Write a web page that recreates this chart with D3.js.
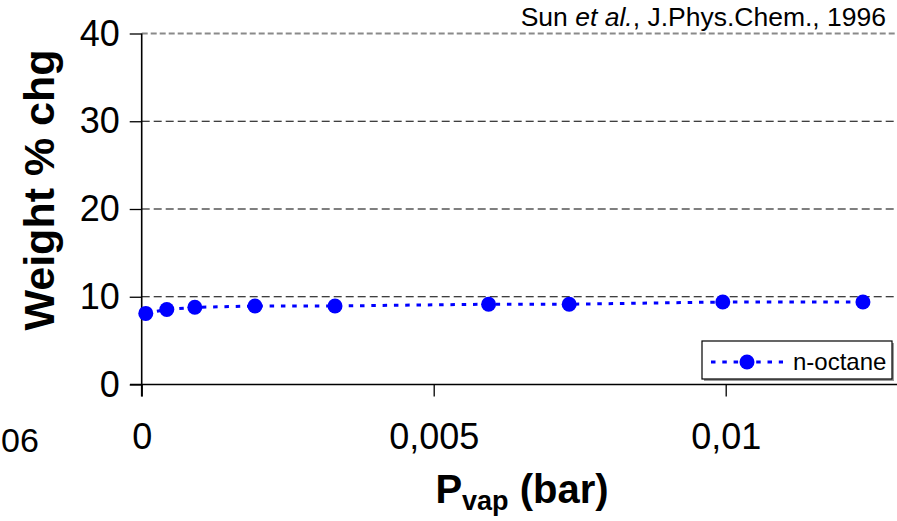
<!DOCTYPE html>
<html>
<head>
<meta charset="utf-8">
<script src="https://cdn.jsdelivr.net/npm/d3@7"></script>
<style>
  html, body { margin: 0; padding: 0; background: #fff; }
  svg { display: block; font-family: Arial, "Liberation Sans", sans-serif; }
</style>
</head>
<body>
<svg id="chart" width="897" height="521"></svg>
<script>
// n-octane uptake versus vapour pressure
const pressure = [0.00007, 0.00043, 0.00091, 0.00194, 0.00331, 0.00594, 0.00732, 0.00995, 0.01235];
const weightChange = [8.1, 8.55, 8.8, 8.95, 8.95, 9.15, 9.15, 9.4, 9.4];
const xTicks = [0, 0.005, 0.01];
const xTickLabels = ["0", "0,005", "0,01"];
const yTicks = [0, 10, 20, 30, 40];
const seriesName = "n-octane";

const svg = d3.select("#chart");
const plotRight = 897;
const font = "Arial, 'Liberation Sans', sans-serif";

const x = d3.scaleLinear().domain([0, 0.01]).range([141.7, 725.7]);
const y = d3.scaleLinear().domain([0, 40]).range([384.5, 33.5]);

// horizontal grid lines
svg.append("g").selectAll("line")
  .data(yTicks.filter(d => d > 0))
  .join("line")
  .attr("x1", x(0)).attr("x2", plotRight)
  .attr("y1", d => y(d)).attr("y2", d => y(d))
  .attr("stroke", d => d === 40 ? "#8a8a8a" : "#000")
  .attr("stroke-width", d => d === 40 ? 1.8 : 1.1)
  .attr("stroke-dasharray", d => d === 40 ? "6,3" : "8,4");

// y axis
const yAxis = d3.axisLeft(y).tickValues(yTicks).tickSize(12).tickPadding(10)
  .tickFormat(d3.format("d"));
const gy = svg.append("g").attr("transform", `translate(${x(0)},0)`).call(yAxis);
gy.select(".domain").remove();
gy.selectAll(".tick line").attr("stroke", "#000").attr("stroke-width", 1.3);
gy.selectAll(".tick text").attr("font-size", 36).attr("fill", "#000")
  .attr("font-family", font);
svg.append("line")
  .attr("x1", x(0)).attr("x2", x(0))
  .attr("y1", y(40)).attr("y2", y(0) + 12)
  .attr("stroke", "#000").attr("stroke-width", 1.6);

// x axis
const xAxis = d3.axisBottom(x).tickValues(xTicks).tickSize(12).tickPadding(27)
  .tickFormat((d, i) => xTickLabels[i]);
const gx = svg.append("g").attr("transform", `translate(0,${y(0)})`).call(xAxis);
gx.select(".domain").remove();
gx.selectAll(".tick line").attr("stroke", "#000").attr("stroke-width", 1.3);
gx.selectAll(".tick text").attr("font-size", 36).attr("fill", "#000")
  .attr("font-family", font);
svg.append("line")
  .attr("x1", 130).attr("x2", plotRight)
  .attr("y1", y(0)).attr("y2", y(0))
  .attr("stroke", "#000").attr("stroke-width", 1.6);

// tail of the neighbouring panel's tick label at the left edge
svg.append("text")
  .attr("x", 1).attr("y", 452)
  .attr("font-size", 34)
  .text("06");

// series: dotted connecting line and round markers
const line = d3.line().x((d, i) => x(pressure[i])).y(d => y(d));
svg.append("path")
  .datum(weightChange)
  .attr("d", line)
  .attr("fill", "none")
  .attr("stroke", "#0000ff")
  .attr("stroke-width", 3)
  .attr("stroke-dasharray", "4.5,6.8");
svg.append("g").selectAll("circle")
  .data(weightChange)
  .join("circle")
  .attr("cx", (d, i) => x(pressure[i]))
  .attr("cy", d => y(d))
  .attr("r", 7.5)
  .attr("fill", "#0000ff");

// axis titles
svg.append("text")
  .attr("transform", `translate(54,190) rotate(-90)`)
  .attr("text-anchor", "middle")
  .attr("font-size", 43)
  .attr("font-weight", "bold")
  .text("Weight % chg");

const xt = svg.append("text")
  .attr("x", 522).attr("y", 503)
  .attr("text-anchor", "middle")
  .attr("font-size", 40)
  .attr("font-weight", "bold");
xt.append("tspan").text("P");
xt.append("tspan").attr("font-size", 27).attr("dy", 7).text("vap");
xt.append("tspan").attr("dy", -7).text(" (bar)");

// source note
const src = svg.append("text")
  .attr("x", 886).attr("y", 26)
  .attr("text-anchor", "end")
  .attr("font-size", 26.5);
src.append("tspan").text("Sun ");
src.append("tspan").attr("font-style", "italic").text("et al.");
src.append("tspan").text(", J.Phys.Chem., 1996");

// legend
const lg = svg.append("g");
lg.append("rect")
  .attr("x", 704).attr("y", 343).attr("width", 190).attr("height", 38)
  .attr("fill", "#9a9a9a");
lg.append("rect")
  .attr("x", 702).attr("y", 341).attr("width", 190).attr("height", 38)
  .attr("fill", "#fff").attr("stroke", "#000").attr("stroke-width", 1.2);
lg.append("line")
  .attr("x1", 711).attr("x2", 783).attr("y1", 362).attr("y2", 362)
  .attr("stroke", "#0000ff").attr("stroke-width", 3)
  .attr("stroke-dasharray", "4.5,6.8");
lg.append("circle").attr("cx", 747).attr("cy", 362).attr("r", 7.5).attr("fill", "#0000ff");
lg.append("text")
  .attr("x", 793).attr("y", 370)
  .attr("font-size", 24)
  .text(seriesName);
</script>
</body>
</html>
